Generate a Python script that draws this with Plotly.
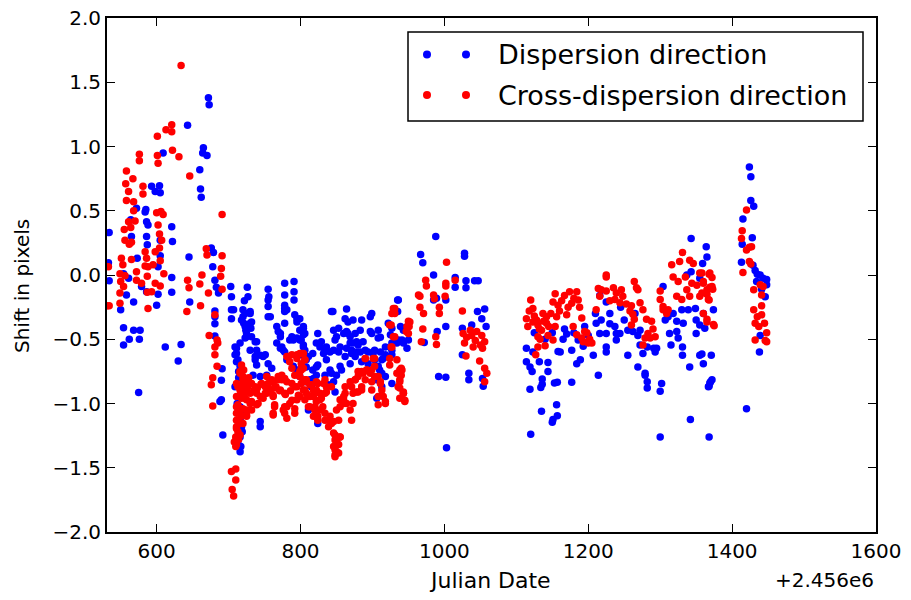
import plotly.graph_objects as go

# Dispersion direction (blue): (Julian Date - 2456000, shift in pixels)
disp_a = [(672,1.38),(673,1.325),(643,1.165),(665,0.99),(664,0.95),(670,0.93),(609,0.95),(660,0.82),
          (593,0.69),(604,0.695),(598,0.65),(605,0.64),(661,0.67),(662,0.605),
          (572,0.52),(585,0.51),(584,0.49),(586,0.415),(588,0.39),(564,0.43),(534,0.33),
          (621,0.375),(622,0.26),(586,0.30),(587,0.235),(565,0.30),(605,0.27),(605,0.15),(645,0.14),
          (676,0.21),(679,0.175),(678,0.065),(533,0.095),(534,-0.045),(554,0.01),(561,-0.025),(573,0.13),
          (602,0.065),(621,-0.02),(621,-0.135),(602,-0.15),(579,-0.09),(586,-0.13),(558,-0.155),(568,-0.21),(600,-0.235),
          (681,-0.04),(683,-0.095),(686,-0.14),(703,-0.09),(726,-0.095),(755,-0.11),(756,-0.17),(778,-0.155),
          (704,-0.17),(646,-0.21),(550,-0.27),(554,-0.41),(568,-0.43),(577,-0.43),(562,-0.50),(554,-0.545),(576,-0.50),
          (612,-0.56),(634,-0.54),(630,-0.67),(575,-0.915),(681,-0.28),(681,-0.325),(681,-0.38),(681,-0.475),
          (707,-0.27),(704,-0.34),(691,-0.73),(690,-0.82),(690,-0.97),(688,-0.985),(692,-1.245)]
disp_b = [(709,-0.56),(711,-0.61),(713,-0.66),(716,-0.71),(709,-0.87),(713,-0.945),(716,-1.025),(718,-1.10),
          (718,-1.18),(716,-1.26),(717,-1.335),(716,-1.375),(720,-0.27),(720,-0.325),(721,-0.375),(724,-0.43),
          (725,-0.48),(730,-0.30),(732,-0.365),(731,-0.415),(737,-0.52),(739,-0.585),(744,-0.625),(748,-0.635),
          (737,-0.66),(739,-0.70),(734,-0.78),(744,-0.79),(753,-0.78),(760,-0.725),(755,-0.69),(767,-0.40),
          (769,-0.44),(772,-0.48),(774,-0.56),(776,-0.585),(781,-0.66),(788,-0.48),(790,-0.505),(799,-0.43),
          (801,-0.505),(804,-0.545),(806,-0.585),(808,-0.66),(790,-0.71),(795,-0.74),(799,-0.79),(808,-0.83),
          (811,-1.05),(818,-0.805),(822,-0.78),(744,-1.14),(744,-1.18),(755,-0.195),(755,-0.325),(778,-0.065),
          (791,-0.05),(791,-0.13),(791,-0.195),(778,-0.26),(778,-0.285),(795,-0.34),(824,-0.70),(822,-0.53),
          (824,-1.155),(714,-0.80),(712,-1.0),(719,-1.22),(722,-0.2)]
disp_b2 = [(727,-0.17),(704,-0.27),(723,-0.30),(730,-0.285),(718,-0.35),(723,-0.40),(730,-0.375),(725,-0.455),
           (723,-0.49),(716,-0.53),(711,-0.57),(709,-0.62),(711,-0.675),(732,-0.48),(739,-0.52),(730,-0.585),
           (737,-0.635),(751,-0.62),(755,-0.245),(758,-0.325),(778,-0.235),(781,-0.27),(792,-0.31),(795,-0.365),
           (778,-0.375),(772,-0.455),(767,-0.53),(772,-0.57),(778,-0.60),(785,-0.505),(795,-0.49),(804,-0.415),
           (804,-0.465),(811,-0.635),(822,-0.715),(834,-0.585),(836,-0.66),(843,-0.285),(848,-0.505),(853,-0.60),
           (857,-0.74),(866,-0.365),(866,-0.455),(869,-0.53),(871,-0.585),(862,-0.635),(878,-0.60),(894,-0.60),
           (899,-0.455),(908,-0.49),(903,-0.585),(913,-0.66),(918,-0.62),(927,-0.585),(934,-0.53),(941,-0.505),
           (936,-0.195),(922,-0.375),(910,-0.74),(918,-0.79),(927,-0.845),(913,-0.87),(906,-0.96),(716,-1.13),
           (713,-1.31),(718,-0.9),(714,-0.75),(720,-1.05)]
disp_c = [(799,-0.34),(804,-0.40),(806,-0.455),(799,-0.505),(804,-0.56),(845,-0.285),(864,-0.265),(862,-0.34),
          (873,-0.35),(885,-0.35),(899,-0.30),(897,-0.325),(846,-0.43),(853,-0.415),(850,-0.48),(860,-0.455),
          (864,-0.44),(869,-0.48),(876,-0.455),(883,-0.43),(878,-0.52),(873,-0.53),(880,-0.545),(887,-0.52),
          (897,-0.44),(908,-0.43),(911,-0.485),(829,-0.52),(827,-0.56),(836,-0.56),(832,-0.61),(841,-0.60),
          (846,-0.585),(855,-0.56),(864,-0.57),(871,-0.61),(876,-0.635),(883,-0.60),(890,-0.585),(901,-0.61),
          (911,-0.60),(918,-0.56),(925,-0.465),(927,-0.415),(939,-0.40),(943,-0.43),(936,-0.505),(943,-0.53),
          (948,-0.57),(950,-0.505),(927,-0.53),(927,-0.62),(915,-0.65),(903,-0.66),(908,-0.71),(913,-0.765),
          (906,-0.815),(894,-0.69),(885,-0.675),(869,-0.69),(855,-0.71),(841,-0.74),(834,-0.78),(843,-0.765),
          (850,-0.78),(846,-0.83),(839,-0.855),(848,-0.91),(813,-0.815),(815,-0.87),(808,-0.715),(817,-0.74),
          (817,-0.61),(824,-0.455),(801,-0.62),(935,-0.285)]
disp_d = [(988,0.30),(967,0.16),(970,0.095),(1028,0.17),(1028,0.145),(985,0.0),(1015,-0.02),(1015,-0.095),
          (1030,-0.045),(1030,-0.10),(1042,-0.045),(1047,-0.045),(985,-0.195),(1002,-0.195),(989,-0.18),(935,-0.195),
          (1046,-0.285),(1056,-0.265),(1052,-0.34),(1058,-0.40),(1025,-0.415),(1038,-0.39),(1002,-0.40),(990,-0.44),
          (972,-0.525),(1025,-0.62),(992,-0.79),(1002,-0.795),(1034,-0.765),(1034,-0.815),(1053,-0.805),(1054,-0.865),
          (1003,-1.345)]
disp_e = [(1114,-0.57),(1123,-0.60),(1114,-0.675),(1119,-0.715),(1122,-0.75),(1132,-0.675),(1144,-0.68),(1144,-0.75),
          (1136,-0.81),(1136,-0.85),(1134,-0.875),(1119,-0.89),(1153,-0.84),(1157,-0.835),(1156,-1.01),(1151,-1.125),
          (1150,-1.145),(1157,-1.095),(1135,-1.06),(1120,-1.24),(1177,-0.585),(1184,-0.69),(1189,-0.66),(1177,-0.835),
          (1167,-0.42),(1170,-0.46),(1200,-0.47),(1207,-0.625),(1214,-0.78),(1158,-0.595),(1161,-0.60),(1186,-0.505),
          (1193,-0.555),(1125,-0.45),(1140,-0.5),(1150,-0.45),(1165,-0.5),(1180,-0.45),(1195,-0.4),(1210,-0.3)]
disp_f = [(1216,-0.16),(1225,-0.21),(1218,-0.35),(1230,-0.38),(1216,-0.455),(1225,-0.455),(1237,-0.40),(1239,-0.455),
          (1239,-0.505),(1244,-0.455),(1255,-0.43),(1262,-0.44),(1269,-0.47),(1272,-0.43),(1272,-0.545),(1255,-0.625),
          (1269,-0.715),(1276,-0.61),(1279,-0.78),(1282,-0.56),(1291,-0.57),(1293,-0.60),(1211,-0.375),(1225,-0.56),
          (1225,-0.60),(1230,-0.3),(1250,-0.35),(1265,-0.3),(1245,-0.25)]
disp_g = [(1343,0.285),(1364,0.22),(1365,0.14),(1359,0.09),(1304,-0.09),(1343,0.025),(1337,0.0),(1355,-0.025),
          (1374,-0.27),(1360,-0.30),(1349,-0.26),(1339,-0.27),(1330,-0.27),(1318,-0.30),(1311,-0.325),(1307,-0.35),
          (1323,-0.36),(1332,-0.375),(1350,-0.35),(1355,-0.39),(1362,-0.415),(1313,-0.455),(1323,-0.44),(1325,-0.49),
          (1315,-0.545),(1350,-0.455),(1331,-0.56),(1331,-0.625),(1341,-0.715),(1355,-0.625),(1371,-0.625),(1360,-0.69),
          (1295,-0.57),(1279,-0.765),(1282,-0.83),(1282,-0.88),(1302,-0.845),(1300,-0.905),(1300,-1.26),(1370,-0.83),
          (1368,-0.865),(1342,-1.125),(1368,-1.26),(1358,-0.615),(1372,-0.815),(1369,-0.84),(1367,-0.87)]
disp_h = [(1424,0.84),(1426,0.765),(1426,0.58),(1430,0.535),(1415,0.435),(1428,0.29),(1414,0.24),(1413,0.10),
          (1429,0.075),(1432,0.035),(1435,0.005),(1439,0.0),(1443,-0.025),(1448,-0.035),(1448,-0.075),(1441,-0.11),
          (1446,-0.17),(1434,-0.05),(1439,-0.47),(1438,-0.60),(1420,-1.04)]

# Cross-dispersion direction (red)
cross_a = [(634,1.63),(621,1.17),(621,1.115),(613,1.13),(601,1.08),(622,0.97),(631,0.92),(576,0.94),(576,0.89),
           (601,0.93),(602,0.87),(558,0.81),(646,0.77),(557,0.71),(567,0.75),(561,0.65),(581,0.69),(581,0.63),
           (558,0.58),(568,0.57),(568,0.50),(600,0.485),(606,0.495),(609,0.47),(691,0.47),(561,0.415),(570,0.42),
           (555,0.355),(564,0.37),(556,0.27),(562,0.24),(565,0.255),(602,0.39),(604,0.32),(607,0.27),(604,0.21),
           (598,0.18),(605,0.11),(669,0.205),(670,0.155),(691,0.15),(690,0.05),(689,-0.01),(691,-0.11),
           (584,0.18),(586,0.13),(584,0.07),(588,0.065),(595,0.08),(587,-0.01),(579,-0.065),(598,-0.065),
           (587,-0.135),(593,-0.13),(605,-0.085),(551,0.13),(553,0.08),(533,0.065),(549,0.01),(556,-0.005),
           (550,-0.05),(554,-0.09),(549,-0.14),(572,0.025),(572,-0.04),(565,0.12),(663,0.0),(643,-0.04),
           (645,-0.10),(660,-0.07),(672,-0.14),(661,-0.24),(610,0.01),(534,-0.24),(549,-0.22),(588,-0.26),
           (642,-0.285),(531,-0.24),(673,-0.47),(681,-0.56),(684,-0.71),(681,-0.62),(678,-0.80),(676,-0.855),
           (678,-1.02),(681,-0.31),(684,-0.505),(685,-0.53)]
cross_b = [(704,-1.53),(710,-1.51),(710,-1.595),(705,-1.67),(707,-1.72),(710,-1.335),(710,-1.26),
           (718,-0.70),(716,-0.75),(720,-0.79),(711,-0.845),(718,-0.855),(725,-0.845),(727,-0.87),(732,-0.845),
           (716,-0.895),(723,-0.91),(730,-0.92),(711,-0.945),(718,-0.96),(725,-0.97),(732,-0.985),(711,-1.025),
           (718,-1.04),(725,-1.05),(732,-1.05),(711,-1.075),(718,-1.10),(725,-1.10),(711,-1.13),(716,-1.155),
           (711,-1.18),(713,-1.22),(739,-1.01),(744,-0.945),(751,-0.87),(755,-0.845),(762,-0.83),(769,-0.815),
           (774,-0.78),(778,-0.805),(781,-0.83),(783,-0.635),(788,-0.62),(795,-0.65),(801,-0.61),(801,-0.69),
           (804,-0.725),(799,-0.75),(792,-0.78),(788,-0.845),(795,-0.87),(801,-0.845),(808,-0.83),(815,-0.855),
           (818,-0.895),(808,-0.92),(799,-0.945),(795,-0.97),(785,-1.0),(778,-1.025),(764,-1.025),(762,-1.075),
           (776,-1.05),(822,-0.985),(827,-0.92),(813,-1.025),(818,-1.10),(762,-0.945),(753,-0.92),(748,-0.96),
           (714,-1.28),(708,-1.3),(721,-0.74),(728,-0.8),(735,-0.9),(740,-0.88),(745,-0.85),(758,-0.9),
           (766,-0.87),(771,-0.9),(786,-0.9),(779,-0.93)]
cross_b2 = [(716,-0.765),(720,-0.815),(713,-0.87),(723,-0.88),(716,-0.935),(723,-0.96),(713,-1.01),(720,-1.04),
            (716,-1.075),(725,-1.09),(713,-1.13),(720,-1.155),(711,-1.195),(716,-1.245),(711,-1.27),(711,-1.32),
            (730,-1.0),(737,-0.87),(739,-0.92),(741,-1.0),(746,-0.845),(753,-0.79),(755,-0.87),(751,-0.92),
            (760,-0.815),(764,-0.88),(762,-0.935),(769,-0.79),(774,-0.815),(772,-0.895),(778,-0.92),(781,-0.635),
            (785,-0.675),(788,-0.725),(795,-0.62),(804,-0.61),(806,-0.66),(801,-0.725),(799,-0.79),(806,-0.815),
            (792,-0.87),(797,-0.935),(788,-0.975),(781,-1.025),(764,-1.01),(762,-1.09),(778,-1.075),(781,-1.115),
            (792,-1.04),(792,-1.075),(806,-0.895),(813,-0.855),(811,-0.935),(818,-0.945),(824,-0.845),(822,-0.895),
            (820,-1.025),(829,-0.96),(834,-0.815),(836,-0.87),(834,-0.92),(827,-1.05),(834,-1.075),(839,-1.13),
            (824,-1.13),(843,-1.155),(853,-1.13),(855,-1.025),(860,-0.975),(862,-0.92),(871,-0.87),(876,-0.815),
            (878,-0.91),(873,-1.0),(880,-0.75),(887,-0.765),(890,-0.815),(885,-0.895),(892,-0.74),(899,-0.74),
            (903,-0.65),(890,-0.65),(908,-0.79),(911,-0.845),(913,-0.935),(908,-1.01),(918,-1.0),(899,-0.895),
            (848,-1.245),(850,-1.30),(848,-1.36),(853,-1.385),(848,-1.415),(855,-1.26),(927,-0.30),(931,-0.26),
            (924,-0.39),(929,-0.48),(927,-0.56),(934,-0.66),(941,-0.74),(938,-0.815),(936,-0.87),(943,-0.92),
            (945,-0.975),(948,-0.40),(950,-0.455),(952,-0.365),(964,-0.155),(968,-0.52)]
cross_c = [(799,-0.61),(806,-0.66),(801,-0.74),(808,-0.815),(804,-0.895),(813,-0.945),(822,-0.83),(820,-0.91),
           (827,-0.97),(831,-1.025),(820,-1.05),(824,-1.10),(834,-1.13),(841,-1.10),(839,-1.18),(846,-1.14),
           (850,-1.05),(855,-0.97),(860,-0.945),(864,-1.0),(869,-1.05),(871,-1.13),(862,-0.87),(869,-0.83),
           (876,-0.815),(880,-0.79),(885,-0.75),(892,-0.74),(897,-0.765),(903,-0.79),(911,-0.83),(913,-0.895),
           (915,-0.945),(918,-0.985),(908,-0.945),(899,-0.83),(890,-0.65),(901,-0.65),(873,-0.92),(880,-0.91),
           (885,-0.87),(938,-0.74),(940,-0.78),(936,-0.87),(943,-0.92),(938,-0.96),(934,-0.765),(903,-0.71),
           (846,-1.23),(848,-1.285),(846,-1.335),(850,-1.375),(848,-1.40),(853,-1.32),(855,-1.26),(836,-0.91),
           (832,-0.845),(843,-0.87),(860,-1.0),(811,-1.025),(806,-0.97),
           (929,-0.26),(931,-0.30),(926,-0.39),(931,-0.48),(926,-0.56),(924,-0.65),(924,-0.70),(940,-0.725),
           (938,-0.83),(938,-0.88),(943,-0.91),(945,-0.985),(950,-0.36),(947,-0.44),(951,-0.40)]
cross_d = [(1003,0.10),(974,-0.04),(975,-0.085),(1002,-0.065),(1002,-0.085),(1015,-0.04),(966,-0.165),(985,-0.155),
           (986,-0.185),(1001,-0.165),(966,-0.25),(971,-0.30),(993,-0.25),(993,-0.30),(1025,-0.28),(970,-0.42),
           (988,-0.48),(989,-0.54),(1026,-0.455),(1031,-0.485),(1038,-0.47),(1045,-0.44),(1052,-0.47),(1043,-0.51),
           (1050,-0.545),(1056,-0.52),(1028,-0.53),(1040,-0.56),(1053,-0.57),(1036,-0.43),(1030,-0.63),(1049,-0.67),
           (1056,-0.725),(1059,-0.765),(1056,-0.83)]
cross_e = [(1120,-0.195),(1123,-0.26),(1114,-0.34),(1116,-0.40),(1123,-0.365),(1128,-0.35),(1130,-0.39),(1137,-0.30),
           (1142,-0.325),(1135,-0.43),(1142,-0.375),(1130,-0.48),(1130,-0.56),(1144,-0.47),(1151,-0.21),(1154,-0.145),
           (1158,-0.235),(1167,-0.16),(1174,-0.13),(1184,-0.13),(1186,-0.195),(1177,-0.22),(1170,-0.31),(1156,-0.325),
           (1154,-0.40),(1179,-0.40),(1191,-0.335),(1195,-0.44),(1184,-0.465),(1191,-0.49),(1200,-0.53),(1205,-0.53),
           (1193,-0.52),(1151,-0.505),(1118,-0.28),(1125,-0.32),(1132,-0.42),(1138,-0.36),(1145,-0.40),(1148,-0.30),
           (1160,-0.28),(1163,-0.2),(1172,-0.25),(1180,-0.18),(1188,-0.25),(1198,-0.45),(1202,-0.5),(1140,-0.55),
           (1127,-0.62),(1133,-0.5)]
cross_f = [(1225,0.0),(1225,-0.015),(1214,-0.105),(1216,-0.165),(1211,-0.27),(1218,-0.115),(1225,-0.125),(1235,-0.10),
           (1239,-0.14),(1246,-0.115),(1248,-0.165),(1237,-0.19),(1230,-0.20),(1244,-0.215),(1253,-0.225),(1260,-0.24),
           (1264,-0.05),(1267,-0.10),(1269,-0.115),(1272,-0.215),(1262,-0.305),(1258,-0.28),(1264,-0.345),(1260,-0.39),
           (1276,-0.27),(1281,-0.345),(1288,-0.36),(1290,-0.42),(1293,-0.48),(1286,-0.49),(1279,-0.49),(1276,-0.545),
           (1283,-0.455)]
cross_g = [(1331,0.175),(1316,0.08),(1327,0.105),(1341,0.115),(1346,0.09),(1355,0.015),(1369,0.015),(1318,-0.015),
           (1325,-0.05),(1335,-0.015),(1344,-0.065),(1351,-0.08),(1360,-0.05),(1372,-0.09),(1365,-0.115),(1337,-0.115),
           (1323,-0.165),(1330,-0.19),(1300,-0.125),(1300,-0.19),(1304,-0.27),(1311,-0.27),(1355,-0.165),(1367,-0.19),
           (1374,-0.385),(1365,-0.345),(1360,-0.30),(1304,-0.245),(1309,-0.30),(1341,-0.165),
           (1358,0.015),(1368,0.005),(1372,-0.02),(1360,-0.065),(1369,-0.095),(1358,-0.14),(1365,-0.15),(1368,-0.195),
           (1365,-0.365),(1375,-0.395),(1373,-0.11)]
cross_h = [(1420,0.505),(1414,0.345),(1413,0.285),(1420,0.195),(1424,0.215),(1427,0.22),(1424,0.105),(1426,0.085),
           (1415,0.02),(1430,-0.115),(1439,-0.075),(1441,-0.155),(1443,-0.09),(1441,-0.24),(1430,-0.27),(1435,-0.325),
           (1441,-0.31),(1445,-0.375),(1432,-0.375),(1437,-0.40),(1448,-0.45),(1446,-0.51),(1432,-0.505),(1448,-0.52)]

x_ticks = [600, 800, 1000, 1200, 1400, 1600]
y_ticks = [-2.0, -1.5, -1.0, -0.5, 0.0, 0.5, 1.0, 1.5, 2.0]
y_ticktext = ["\u22122.0", "\u22121.5", "\u22121.0", "\u22120.5", "0.0", "0.5", "1.0", "1.5", "2.0"]
series_names = ["Dispersion direction", "Cross-dispersion direction"]
series_colors = ["#0000ff", "#ff0000"]

disp = disp_a + disp_b + disp_b2 + disp_c + disp_d + disp_e + disp_f + disp_g + disp_h
cross = cross_a + cross_b + cross_b2 + cross_c + cross_d + cross_e + cross_f + cross_g + cross_h

FONT = "DejaVu Sans"
fig = go.Figure()
for name, color, pts in zip(series_names, series_colors, [disp, cross]):
    fig.add_trace(go.Scatter(
        x=[p[0] for p in pts], y=[p[1] for p in pts], mode="markers", name=name,
        marker=dict(color=color, size=7.5, line=dict(width=0)), showlegend=False))

L, R, T, B = 107, 35, 18, 68
W, H = 911, 600
pw, ph = W - L - R, H - T - B

def px(xp):
    return (xp - L) / pw

def py(yp):
    return (H - B - yp) / ph

shapes = [dict(type="rect", xref="paper", yref="paper", x0=px(408), x1=px(863), y0=py(121), y1=py(32),
               line=dict(color="black", width=1.5), fillcolor="white", layer="above")]
annotations = []
rows = [54.5, 95]
for name, color, yr in zip(series_names, series_colors, rows):
    for cx in (427, 466):
        shapes.append(dict(type="circle", xref="paper", yref="paper",
                           x0=px(cx - 4), x1=px(cx + 4), y0=py(yr + 4), y1=py(yr - 4),
                           fillcolor=color, line=dict(width=0), layer="above"))
    annotations.append(dict(text=name, xref="paper", yref="paper", x=px(496), y=py(yr),
                            xanchor="left", yanchor="middle", showarrow=False,
                            font=dict(family=FONT, size=27, color="black")))
annotations.append(dict(text="+2.456e6", xref="paper", yref="paper", x=1.0, y=py(580),
                        xanchor="right", yanchor="middle", showarrow=False,
                        font=dict(family=FONT, size=20, color="black")))
annotations.append(dict(text="Julian Date", xref="paper", yref="paper", x=px(490), y=py(580),
                        xanchor="center", yanchor="middle", showarrow=False,
                        font=dict(family=FONT, size=22, color="black")))
annotations.append(dict(text="Shift in pixels", xref="paper", yref="paper", x=px(22), y=py(286),
                        xanchor="center", yanchor="middle", showarrow=False, textangle=-90,
                        font=dict(family=FONT, size=20, color="black")))

axis_common = dict(showgrid=False, zeroline=False, showline=True, linecolor="black", linewidth=2,
                   mirror="ticks", ticks="inside", ticklen=8, tickwidth=1, tickcolor="black",
                   automargin=False, tickfont=dict(family=FONT, size=20, color="black"))
fig.update_layout(
    width=W, height=H, margin=dict(l=L, r=R, t=T, b=B),
    paper_bgcolor="white", plot_bgcolor="white",
    xaxis=dict(range=[531, 1600], tickvals=x_ticks, ticktext=[str(v) for v in x_ticks], **axis_common),
    yaxis=dict(range=[-2, 2], tickvals=y_ticks, ticktext=y_ticktext, **axis_common),
    shapes=shapes, annotations=annotations, showlegend=False,
)
fig.write_html("out.html")
